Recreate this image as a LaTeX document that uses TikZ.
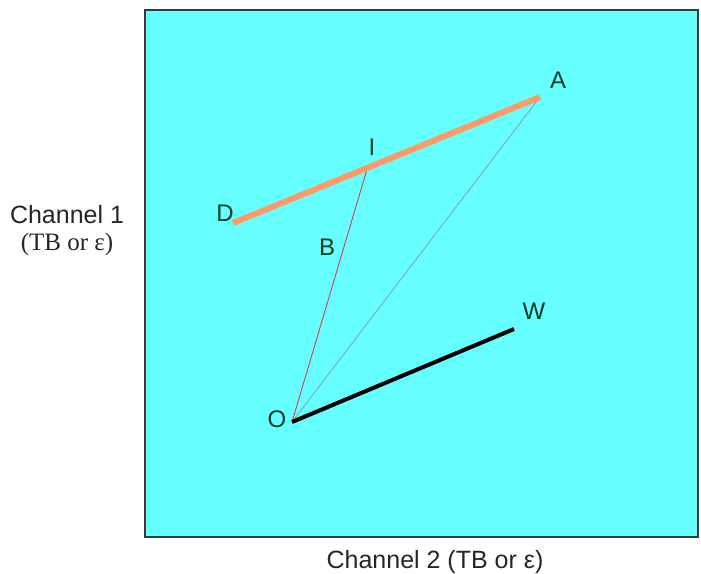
\documentclass[tikz,border=0pt]{standalone}
\usepackage{fontspec}
\setmainfont{Liberation Sans}
\newfontfamily\serifchan{Liberation Serif}
\usetikzlibrary{positioning,calc}
\definecolor{PlotCyan}{HTML}{66FFFF}
\definecolor{FrameGray}{HTML}{333A40}
\definecolor{LineOrange}{HTML}{FF9966}
\definecolor{LineRed}{HTML}{E0303A}
\definecolor{LineGray}{HTML}{8A9AAA}
\definecolor{LabelGreen}{HTML}{0A3A22}
\tikzset{
  plotframe/.style={draw=FrameGray,line width=1.2pt,fill=PlotCyan},
  ptlabel/.style={text=LabelGreen,font=\fontsize{24}{26}\selectfont,inner sep=0pt},
  chanlabel/.style={text=black!85,font=\fontsize{25}{27}\selectfont,align=center,inner sep=0pt}
}

\begin{document}
\begin{tikzpicture}[x=1pt,y=-1pt]
  \useasboundingbox (0,0) rectangle (701,573);
  \draw[plotframe] (145,10) rectangle (698,537);

  \coordinate (A) at (540,97);
  \coordinate (D) at (233,223);
  \coordinate (I) at (368,166);
  \coordinate (O) at (292,422);
  \coordinate (W) at (514,329);

  \node[ptlabel] (Alab) at (558,80) {A};
  \node[ptlabel] (Dlab) at (225,213) {D};
  \node[ptlabel] (Ilab) at (372,147) {I};
  \node[ptlabel] (Blab) at (327,247) {B};
  \node[ptlabel] (Olab) at (277,419) {O};
  \node[ptlabel] (Wlab) at (534,311) {W};

  \node[chanlabel] (ch1) at (67,231) {Channel 1\\{\serifchan (TB or ε)}};
  \node[chanlabel] (ch2) at (435,562) {Channel 2 (TB or ε)};

  \draw[LineGray,line width=0.8pt] (O) -- (A);
  \draw[LineRed,line width=0.8pt] (O) -- (I);
  \draw[LineOrange,line width=6pt] (D) -- (A);
  \draw[black,line width=4pt] (O) -- (W);
\end{tikzpicture}
\end{document}
